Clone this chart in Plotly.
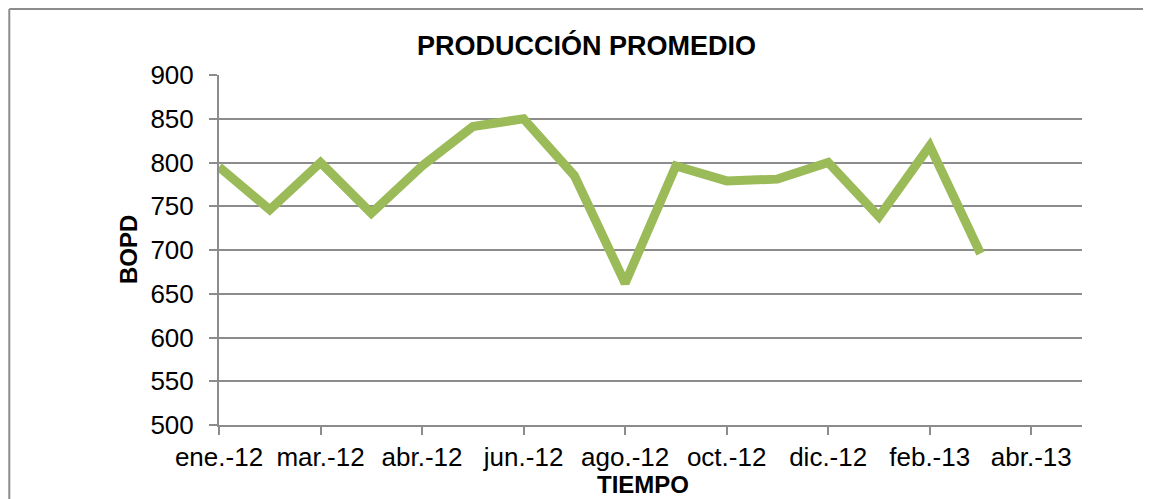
import plotly.graph_objects as go

# Data
months = ["ene.-12", "feb.-12", "mar.-12", "mar.-12b", "abr.-12", "may.-12", "jun.-12", "jul.-12",
          "ago.-12", "sep.-12", "oct.-12", "nov.-12", "dic.-12", "ene.-13", "feb.-13", "mar.-13"]
bopd = [795, 746, 800, 742, 796, 841, 850, 785, 662, 796, 779, 781, 800, 738, 819, 696]
tick_labels = ["ene.-12", "mar.-12", "abr.-12", "jun.-12", "ago.-12", "oct.-12", "dic.-12", "feb.-13", "abr.-13"]

x_idx = list(range(len(bopd)))
tick_pos = [i * 2 for i in range(len(tick_labels))]

FONT = "Liberation Sans, Arial, sans-serif"
GRID = "#8c8c8c"

fig = go.Figure()
fig.add_trace(go.Scatter(
    x=x_idx, y=bopd, mode="lines",
    line=dict(color="#9BBB59", width=9, shape="linear"),
    hoverinfo="y", showlegend=False,
))

fig.update_layout(
    width=1143, height=491,
    margin=dict(l=211, r=69, t=67, b=74),
    paper_bgcolor="white", plot_bgcolor="white",
    font=dict(family=FONT, size=26, color="black"),
    xaxis=dict(
        range=[0, 17], tickvals=tick_pos, ticktext=tick_labels,
        showgrid=False, zeroline=False, showline=True, linecolor=GRID, linewidth=2,
        ticks="outside", ticklen=8, tickcolor=GRID, tickwidth=2,
        tickfont=dict(size=26, family=FONT), fixedrange=True,
    ),
    yaxis=dict(
        range=[500, 900], dtick=50, tick0=500,
        showgrid=True, gridcolor=GRID, gridwidth=2, zeroline=False,
        showline=True, linecolor=GRID, linewidth=2,
        ticks="outside", ticklen=8, tickcolor=GRID, tickwidth=2,
        ticklabelstandoff=10,
        tickfont=dict(size=26, family=FONT), fixedrange=True,
    ),
    annotations=[
        dict(text="<b>PRODUCCIÓN PROMEDIO</b>", x=0.4253, y=1.083, xref="paper", yref="paper",
             showarrow=False, font=dict(size=27, family=FONT), xanchor="center", yanchor="middle"),
        dict(text="<b>TIEMPO</b>", x=0.4913, y=-0.1714, xref="paper", yref="paper",
             showarrow=False, font=dict(size=24, family=FONT), xanchor="center", yanchor="middle"),
        dict(text="<b>BOPD</b>", x=-0.1054, y=0.5, xref="paper", yref="paper", textangle=-90,
             showarrow=False, font=dict(size=24, family=FONT), xanchor="center", yanchor="middle"),
    ],
    shapes=[
        dict(type="line", xref="paper", yref="paper", x0=-0.243, x1=-0.243, y0=1.1886, y1=-0.3,
             line=dict(color=GRID, width=2)),
        dict(type="line", xref="paper", yref="paper", x0=-0.243, x1=1.2, y0=1.1886, y1=1.1886,
             line=dict(color=GRID, width=2)),
    ],
)

fig.write_html("out.html")
